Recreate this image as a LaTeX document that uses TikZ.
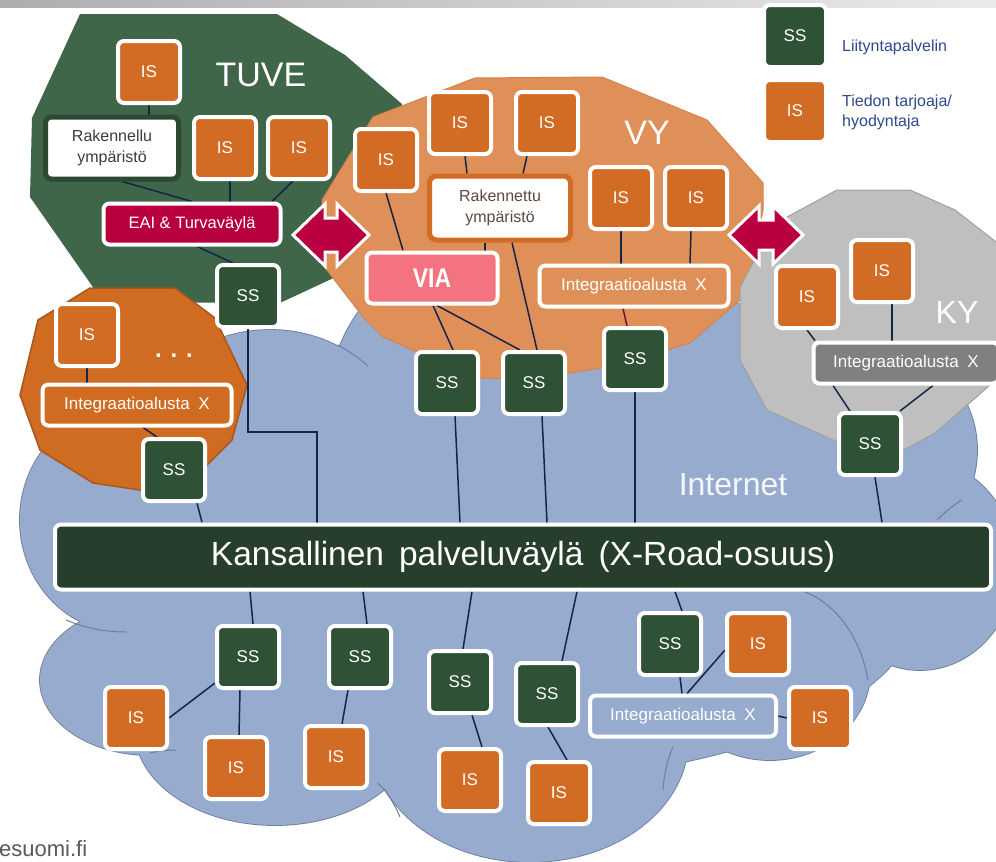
\documentclass[tikz,border=0pt]{standalone}
\usepackage{fontspec}
\setmainfont{Liberation Sans}
\usetikzlibrary{calc}
\definecolor{cloudblue}{RGB}{151,171,207}
\definecolor{cloudline}{RGB}{110,126,158}
\definecolor{tuvegreen}{RGB}{63,102,72}
\definecolor{vyorange}{RGB}{223,144,88}
\definecolor{vyline}{RGB}{212,130,78}
\definecolor{isorange}{RGB}{210,108,36}
\definecolor{ssgreen}{RGB}{47,82,54}
\definecolor{bargreen}{RGB}{38,62,43}
\definecolor{eaired}{RGB}{184,0,63}
\definecolor{arrowred}{RGB}{187,0,66}
\definecolor{viapink}{RGB}{243,116,128}
\definecolor{kygray}{RGB}{191,191,191}
\definecolor{kyline}{RGB}{160,160,160}
\definecolor{kybox}{RGB}{128,128,128}
\definecolor{dotorange}{RGB}{208,107,34}
\definecolor{dotline}{RGB}{168,86,27}
\definecolor{linecol}{RGB}{19,36,74}
\definecolor{maroonline}{RGB}{120,16,40}
\definecolor{legblue}{RGB}{46,74,140}
\definecolor{rakgreen}{RGB}{45,72,51}
\definecolor{raktext}{RGB}{60,60,60}
\definecolor{rakvtext}{RGB}{90,74,66}
\pgfdeclarelayer{bg}\pgfdeclarelayer{lines}\pgfsetlayers{bg,lines,main}
\begin{document}
\begin{tikzpicture}[x=1pt,y=-1pt,
  bx/.style={draw=white, line width=4pt, rounded corners=6pt, inner sep=0pt, text=white, font=\fontsize{17}{17}\selectfont},
  isb/.style={bx, fill=isorange, minimum width=62pt, minimum height=62pt},
  ssb/.style={bx, fill=ssgreen, minimum width=62pt, minimum height=62pt},
  intb/.style={bx, minimum width=189pt, minimum height=41pt, font=\fontsize{17}{17}\selectfont},
  rakt/.style={fill=white, draw=rakgreen, line width=5pt, rounded corners=6pt, minimum width=133pt, minimum height=62pt, align=center, text=raktext, inner sep=0pt, font=\fontsize{16}{21}\selectfont},
  rakv/.style={fill=white, draw=isorange, line width=5pt, rounded corners=7pt, minimum width=141pt, minimum height=64pt, align=center, text=rakvtext, inner sep=0pt, font=\fontsize{16}{21}\selectfont},
  biglabel/.style={text=white, inner sep=0pt},
  conn/.style={draw=linecol, line width=1.5pt},
  arrowst/.style={fill=arrowred, draw=white, line width=3pt, line join=miter},
  cloudo/.style={draw=cloudline, line width=1.8pt},
  innerarc/.style={draw=cloudline, line width=1pt}
]
\useasboundingbox (0,0) rectangle (996,862);

% ---------------- nodes ----------------
% TUVE
\node[isb] (IS1) at (149,72) {IS};
\node[rakt] (RakT) at (112,148) {Rakennellu\\ympäristö};
\node[isb] (IS2) at (225,148) {IS};
\node[isb] (IS3) at (299,148) {IS};
\node[bx, fill=eaired, minimum width=177pt, minimum height=41pt, font=\fontsize{16.5}{16.5}\selectfont] (EAI) at (192,224) {EAI \& Turvaväylä};
\node[ssb] (SS1) at (248,296) {SS};
\node[biglabel, font=\fontsize{34}{34}\selectfont] (TUVE) at (261,75) {TUVE};
% VY
\node[isb] (ISv1) at (386,160) {IS};
\node[isb] (ISv2) at (460,123) {IS};
\node[isb] (ISv3) at (547,123) {IS};
\node[rakv] (RakV) at (500,208) {Rakennettu\\ympäristö};
\node[bx, fill=viapink, minimum width=131pt, minimum height=51pt, font=\fontsize{27}{27}\selectfont\bfseries] (VIA) at (432,278) {\scalebox{0.85}[1]{VIA}};
\node[biglabel, font=\fontsize{34}{34}\selectfont] (VY) at (647,133) {VY};
\node[isb] (ISv4) at (621,198) {IS};
\node[isb] (ISv5) at (696,198) {IS};
\node[intb, fill=vyorange] (IntV) at (634,286) {Integraatioalusta\hspace{0.5em}X};
\node[ssb] (SSv1) at (447,383) {SS};
\node[ssb] (SSv2) at (534,383) {SS};
\node[ssb] (SSv3) at (635,359) {SS};
% KY
\node[isb] (ISk1) at (807,297) {IS};
\node[isb] (ISk2) at (882,271) {IS};
\node[biglabel, font=\fontsize{32}{32}\selectfont] (KY) at (957,312) {KY};
\node[intb, fill=kybox, minimum width=185pt] (IntK) at (906,363) {Integraatioalusta\hspace{0.5em}X};
\node[ssb] (SSk) at (870,444) {SS};
% dots group
\node[isb] (ISd) at (87,335) {IS};
\node[biglabel, font=\fontsize{24}{24}\selectfont\bfseries] (dots) at (174,356) {. . .};
\node[intb, fill=dotorange] (IntD) at (137,405) {Integraatioalusta\hspace{0.5em}X};
\node[ssb] (SSd) at (174,470) {SS};
% bar
\node[bx, fill=bargreen, minimum width=936pt, minimum height=65pt, font=\fontsize{33.5}{33.5}\selectfont] (bar) at (523,557) {Kansallinen\hspace{0.45em}palveluväylä\hspace{0.45em}(X-Road-osuus)};
\node[text=white!90!cloudblue, font=\fontsize{32}{32}\selectfont, inner sep=0pt] (inet) at (733,485) {Internet};
% bottom
\node[ssb] (SSb1) at (248,657) {SS};
\node[ssb] (SSb2) at (360,657) {SS};
\node[ssb] (SSb3) at (460,682) {SS};
\node[ssb] (SSb4) at (547,694) {SS};
\node[ssb] (SSb5) at (670,644) {SS};
\node[isb] (ISb1) at (136,718) {IS};
\node[isb] (ISb2) at (236,768) {IS};
\node[isb] (ISb3) at (336,757) {IS};
\node[isb] (ISb4) at (470,780) {IS};
\node[isb] (ISb5) at (559,793) {IS};
\node[isb] (ISb6) at (758,644) {IS};
\node[isb] (ISb7) at (820,718) {IS};
\node[intb, fill=cloudblue, minimum width=186pt] (IntB) at (683,716) {Integraatioalusta\hspace{0.5em}X};
% legend
\node[ssb] (SSleg) at (795,36) {SS};
\node[isb] (ISleg) at (795,111) {IS};
\node[anchor=west, inner sep=0pt, text=legblue, font=\fontsize{16}{16}\selectfont] (Lleg) at (842,47) {Liityntapalvelin};
\node[anchor=west, inner sep=0pt, text=legblue, font=\fontsize{16}{20}\selectfont, align=left] (Tleg) at (842,112) {Tiedon tarjoaja/\\hyodyntaja};
% footer
\node[anchor=base west, inner sep=0pt, text=black!65, font=\fontsize{22}{22}\selectfont] (foot) at (-1,856) {esuomi.fi};

% arrows
\coordinate (A1) at (331,235);
\coordinate (A2) at (766,235);
\draw[arrowst] (A1) ++(-38,0) -- ++(32,-31) -- ++(0,14) -- ++(12,0) -- ++(0,-14) -- ++(32,31) -- ++(-32,31) -- ++(0,-14) -- ++(-12,0) -- ++(0,14) -- cycle;
\draw[arrowst] (A2) ++(-37,0) -- ++(30,-29) -- ++(0,14) -- ++(14,0) -- ++(0,-14) -- ++(30,29) -- ++(-30,29) -- ++(0,-14) -- ++(-14,0) -- ++(0,14) -- cycle;

% ---------------- background shapes ----------------
\begin{pgfonlayer}{bg}
\fill[white] (0,0) rectangle (996,862);
\shade[left color=black!32, right color=black!8] (0,0) rectangle (996,7);
% cloud: outlines then fills
\foreach \cx/\cy/\rx/\ry in {270/480/150/150, 480/400/150/150, 660/420/140/140, 870/450/107/107, 920/565/95/105, 770/672/100/88, 530/740/158/122, 275/730/140/95, 150/680/110/75, 125/520/105/112, 500/600/420/180}
  {\draw[cloudo] (\cx,\cy) ellipse [x radius=\rx, y radius=\ry];}
\foreach \cx/\cy/\rx/\ry in {270/480/150/150, 480/400/150/150, 660/420/140/140, 870/450/107/107, 920/565/95/105, 770/672/100/88, 530/740/158/122, 275/730/140/95, 150/680/110/75, 125/520/105/112, 500/600/420/180}
  {\fill[cloudblue] (\cx,\cy) ellipse [x radius=\rx, y radius=\ry];}
% inner arcs
\draw[innerarc] (66,620) .. controls (85,628) and (105,632) .. (126,632);
\draw[innerarc] (150,753) .. controls (158,751) and (166,750) .. (176,750);
\draw[innerarc] (378,783) .. controls (388,793) and (395,805) .. (400,817);
\draw[innerarc] (673,747) .. controls (667,760) and (664,775) .. (663,790);
\draw[innerarc] (800,590) .. controls (835,602) and (860,635) .. (868,680);
\draw[innerarc] (937,520) .. controls (945,512) and (952,506) .. (962,500);
\draw[innerarc] (338,345) .. controls (348,351) and (358,357) .. (368,366);
% TUVE
\fill[tuvegreen] (80,14) -- (277,14) -- (345,55) -- (402,104) -- (380,250) -- (340,275) -- (282,302) -- (150,303) -- (95,290) -- (30,197) -- (32,118) -- cycle;
% VY
\filldraw[fill=vyorange, draw=vyline, line width=1pt] (373,117) -- (475,78) -- (602,77) -- (707,120) -- (763,183) -- (763,210) -- (753,263) -- (740,300) -- (690,343) -- (667,350) -- (600,368) -- (540,378) -- (480,378) -- (417,352) -- (383,337) -- (363,317) -- (323,265) -- (322,200) -- cycle;
% KY
\filldraw[fill=kygray, draw=kyline, line width=1pt] (753,263) -- (787,217) -- (837,190) -- (910,190) -- (955,210) -- (1000,245) -- (1000,380) -- (990,385) -- (973,400) -- (935,433) -- (900,452) -- (833,440) -- (767,410) -- (740,360) -- (740,287) -- cycle;
% dots polygon
\filldraw[fill=dotorange, draw=dotline, line width=1.5pt] (90,288) -- (175,288) -- (215,318) -- (247,385) -- (232,440) -- (200,472) -- (140,490) -- (93,483) -- (40,450) -- (20,395) -- (38,320) -- cycle;
\end{pgfonlayer}

% ---------------- connectors ----------------
\begin{pgfonlayer}{lines}
% TUVE
\draw[conn] (IS1.south) -- (IS1.south |- RakT.north);
\draw[conn] ([xshift=10pt]RakT.south) -- (EAI.north);
\draw[conn] ([xshift=5pt]IS2.south) -- ($(IS2.south |- EAI.north)+(5,0)$);
\draw[conn] ([xshift=-6pt]IS3.south) -- ([xshift=80pt]EAI.north);
\draw[conn] ([xshift=5pt]EAI.south) -- ([xshift=-15pt]SS1.north);
\coordinate (c1) at (317,432);
\draw[conn] (SS1.south) |- (c1) -- (c1 |- bar.north);
% VY
\draw[conn] (ISv1.south) -- ([xshift=-29pt]VIA.north);
\draw[conn] ([xshift=5pt]ISv2.south) -- ($(ISv2.south |- RakV.north)+(7,0)$);
\draw[conn] ([xshift=-20pt]ISv3.south) -- ([xshift=23pt]RakV.north);
\draw[conn] ([xshift=-15pt]RakV.south) -- ([xshift=53pt]VIA.north);
\draw[conn] ([xshift=12pt]RakV.south) -- ([xshift=3pt]SSv2.north);
\draw[conn] ([xshift=1pt]VIA.south) -- ([xshift=6pt]SSv1.north);
\draw[conn] ([xshift=5pt]VIA.south) -- ([xshift=-14pt]SSv2.north);
\draw[conn] (ISv4.south) -- (ISv4.south |- IntV.north);
\draw[conn] ([xshift=-5pt]ISv5.south) -- ([xshift=56pt]IntV.north);
\draw[conn, draw=maroonline] ([xshift=-11pt]IntV.south) -- ([xshift=-8pt]SSv3.north);
\draw[conn] (SSv3.south) -- (SSv3.south |- bar.north);
\draw[conn] ([xshift=8pt]SSv1.south) -- ($(SSv1.south |- bar.north)+(13,0)$);
\draw[conn] ([xshift=8pt]SSv2.south) -- ($(SSv2.south |- bar.north)+(13,0)$);
% KY
\draw[conn] (ISk1.south) -- ([xshift=-91pt]IntK.north);
\draw[conn] ([xshift=10pt]ISk2.south) -- ($(ISk2.south |- IntK.north)+(10,0)$);
\draw[conn] ([xshift=-73pt]IntK.south) -- ([xshift=-20pt]SSk.north);
\draw[conn] ([xshift=27pt]IntK.south) -- ([xshift=30pt]SSk.north);
\draw[conn] ([xshift=5pt]SSk.south) -- ($(SSk.south |- bar.north)+(12,0)$);
% dots group
\draw[conn] (ISd.south) -- (ISd.south |- IntD.north);
\draw[conn] ([xshift=6pt]IntD.south) -- ([xshift=-17pt]SSd.north);
\draw[conn] ([xshift=23pt]SSd.south) -- ($(SSd.south |- bar.north)+(28,0)$);
% bottom
\draw[conn] ($(SSb1.north |- bar.south)+(2,0)$) -- ([xshift=5pt]SSb1.north);
\draw[conn] ($(SSb2.north |- bar.south)+(3,0)$) -- ([xshift=7pt]SSb2.north);
\draw[conn] ($(SSb3.north |- bar.south)+(12,0)$) -- ([xshift=3pt]SSb3.north);
\draw[conn] ($(SSb4.north |- bar.south)+(30,0)$) -- ([xshift=15pt]SSb4.north);
\draw[conn] ($(SSb5.north |- bar.south)+(5,0)$) -- ([xshift=12pt]SSb5.north);
\draw[conn] ([yshift=-26pt]SSb1.west) -- (ISb1.east);
\draw[conn] ([xshift=-8pt]SSb1.south) -- ([xshift=3pt]ISb2.north);
\draw[conn] ([xshift=-12pt]SSb2.south) -- ([xshift=6pt]ISb3.north);
\draw[conn] ([xshift=12pt]SSb3.south) -- ([xshift=12pt]ISb4.north);
\draw[conn] ([xshift=1pt]SSb4.south) -- ([xshift=8pt]ISb5.north);
\draw[conn] ([xshift=10pt]SSb5.south) -- ([xshift=-1pt]IntB.north);
\draw[conn] ([yshift=-6pt]ISb6.west) -- ([xshift=4pt]IntB.north);
\draw[conn] (IntB.east) -- (ISb7.west);
\end{pgfonlayer}
\end{tikzpicture}
\end{document}
